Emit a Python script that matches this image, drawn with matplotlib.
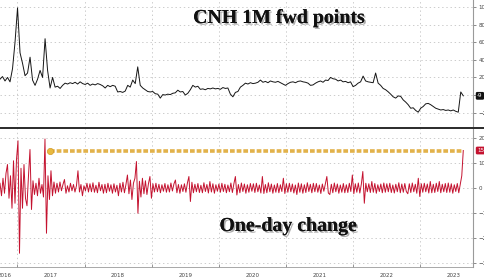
import pandas as pd
import matplotlib
matplotlib.use("Agg")
import matplotlib.pyplot as plt
import matplotlib.dates as mdates
import matplotlib.patheffects as pe
from matplotlib.lines import Line2D

# ---------- data ----------
# CNH 1M forward points, evenly spaced from late Sep 2016 to Aug 2023
fwd_points = [
    180, 210, 160, 200, 150, 300, 600, 990, 480, 360,
    220, 250, 430, 170, 110, 180, 280, 200, 640, 280,
    80, 200, 90, 100, 75, 110, 135, 125, 140, 130,
    145, 125, 150, 130, 120, 135, 110, 125, 115, 130,
    120, 105, 80, 110, 95, 110, 100, 35, 40, 30,
    45, 110, 90, 170, 130, 320, 110, 80, 60, 40,
    35, 40, 15, 10, -35, 5, 0, 10, 5, 20,
    25, 55, 35, 40, 0, 20, 60, 110, 90, 100,
    65, 70, 60, 75, 70, 80, 70, 75, 65, 85,
    75, 80, 10, -20, 30, 40, 90, 110, 135, 125,
    140, 130, 135, 145, 170, 145, 155, 140, 160, 150,
    145, 155, 140, 125, 110, 130, 145, 150, 140, 155,
    160, 150, 145, 135, 110, 115, 135, 150, 160, 145,
    170, 165, 200, 185, 180, 160, 170, 150, 155, 140,
    150, 95, 110, 135, 150, 215, 160, 150, 145, 140,
    250, 135, 110, 75, 60, 37, 10, -20, -35, -10,
    -15, -55, -80, -110, -150, -145, -175, -195, -150, -130,
    -100, -95, -110, -130, -150, -160, -170, -165, -175, -170,
    -180, -170, -185, -195, 35, -9,
]

# one-day change in the forward points, same period
one_day_change = [
    20, -30, 40, -20, 60, 95, -40, 50, -80, 110,
    -60, 115, 190, -260, 80, -80, 95, -40, -70, 50,
    155, -85, 30, -25, 20, -30, 40, -20, 15, -35,
    197, -180, 50, -45, 70, -30, 25, -20, 20, -15,
    25, -10, 15, 35, -20, 10, -15, 20, -10, 15,
    -15, 10, 70, -15, 15, -30, 10, -10, 20, -15,
    18, -14, 22, -16, 12, -18, 24, -10, 15, -20,
    16, -18, 20, -12, 14, -20, 18, -15, 12, -30,
    20, -15, 24, -18, 15, 53, -22, 33, -45, 20,
    40, 107, -100, 28, -35, 40, -22, 30, -25, 18,
    47, -40, 18, -15, 20, -14, 16, -18, 14, -12,
    19, -16, 14, -15, 21, -11, 17, 33, -18, 15,
    -20, 14, -13, 18, -16, 21, 47, -53, 24, -18,
    16, -14, 19, -17, 12, -18, 22, -13, 15, -19,
    27, -15, 18, -20, 14, -12, 17, -16, 20, -13,
    16, -18, 13, -14, 21, -17, 18, 47, -27, 15,
    -18, 21, -13, 17, -20, 14, -16, 19, -12, 18,
    -17, 20, -14, 13, -19, 47, -21, 15, -18, 22,
    -14, 17, -20, 13, -16, 19, -18, 14, -13, 40,
    -21, 18, -16, 20, -14, 17, -19, 13, -25, 21,
    -16, 18, -20, 14, -17, 22, -13, 16, -18, 20,
    -14, 19, -16, 13, -21, 17, -12, 18, 47, -19,
    -25, 16, -18, 21, -14, 17, -20, 13, -16, 19,
    -18, 14, -17, 20, -13, 53, -22, 18, -16, 21,
    -19, 16, 67, -60, 20, -14, 18, -17, 27, -16,
    19, -20, 14, -13, 17, -18, 21, -16, 18, -14,
    20, -17, 13, -19, 16, -14, 22, -18, 17, -16,
    19, -13, -22, 18, -17, 21, -14, 16, -20, 40,
    -33, 18, -16, 20, -14, 17, -19, 27, -18, 16,
    -17, 20, -13, 27, -18, 16, -14, 19, -17, 21,
    -16, 18, -20, 14, -13, 19, -18, 16, 50, 151,
]

latest_fwd = -9
latest_change = 151
ref_start = "2017-06-28"   # start of the dashed 'latest move' marker

top_ticks = [1000, 800, 600, 400, 200, 0, -200]
bot_ticks = [200, 100, 0, -100, -200, -300]
year_labels = ["2016", "2017", "2018", "2019", "2020", "2021", "2022", "2023"]
year_label_dates = ["2016-10-26"] + [f"{y}-07-02" for y in range(2017, 2024)]
year_starts = [f"{y}-01-01" for y in range(2017, 2024)]

start, end = "2016-09-28", "2023-08-22"
fwd_dates = pd.date_range(start, end, periods=len(fwd_points))
chg_dates = pd.date_range(start, end, periods=len(one_day_change))

# ---------- figure ----------
plt.rcParams["lines.scale_dashes"] = False
fig = plt.figure(figsize=(4.85, 2.79), dpi=100)
ax_top = fig.add_axes([0, 0.543, 0.9753, 0.457])
ax_bot = fig.add_axes([0, 0.043, 0.9753, 0.4946])

xlim = (mdates.date2num(pd.Timestamp("2016-09-28")), mdates.date2num(pd.Timestamp("2023-10-14")))
grid_kw = dict(color="#c4c4c4", linewidth=0.6, linestyle=(0, (1, 2)))

for ax in (ax_top, ax_bot):
    ax.set_xlim(*xlim)
    ax.yaxis.tick_right()
    for s in ("left", "top"):
        ax.spines[s].set_visible(False)
    ax.spines["right"].set_color("#9a9a9a")
    ax.spines["right"].set_linewidth(0.8)
    ax.set_xticks(mdates.date2num(pd.to_datetime(year_starts)))
    ax.set_xticks(mdates.date2num(pd.to_datetime(year_label_dates)), minor=True)
    ax.grid(True, axis="both", which="major", **grid_kw)
    ax.tick_params(axis="y", which="both", direction="out", length=2.5, width=0.6,
                   color="#777777", labelsize=4, labelcolor="#444444", pad=1.5)
    ax.set_axisbelow(True)

# top panel
ax_top.plot(fwd_dates, fwd_points, color="#151515", linewidth=0.7)
ax_top.set_ylim(-369, 1080)
ax_top.set_yticks(top_ticks)
ax_top.spines["bottom"].set_visible(False)
ax_top.tick_params(axis="x", which="both", length=0, labelbottom=False)

# bottom panel
ax_bot.plot(chg_dates, one_day_change, color="#c4122f", linewidth=0.7)
ax_bot.set_ylim(-315, 237)
ax_bot.set_yticks(bot_ticks)
ax_bot.spines["bottom"].set_color("#9a9a9a")
ax_bot.spines["bottom"].set_linewidth(0.6)
ax_bot.set_xticklabels([])
ax_bot.set_xticklabels(year_labels, minor=True)
ax_bot.tick_params(axis="x", which="major", direction="in", length=2.5, width=0.6, color="#888888")
ax_bot.tick_params(axis="x", which="minor", length=0, labelsize=4, labelcolor="#444444", pad=4.5)

# dashed line at the latest one-day move
ref_x = [pd.Timestamp(ref_start), pd.Timestamp(end)]
ax_bot.plot(ref_x, [latest_change, latest_change], color="#e2b24a", linewidth=2.6,
            dashes=(3.4, 1.4), solid_capstyle="butt", dash_capstyle="butt", zorder=4)
ax_bot.plot(ref_x[0], latest_change, "o", color="#e8b93e", markersize=4.5,
            markeredgecolor="#d39a2a", markeredgewidth=0.5, zorder=5)

# value badges on the right axis
ax_top.annotate(f"{latest_fwd}", xy=(1.0, latest_fwd), xycoords=("axes fraction", "data"),
                xytext=(3, 0), textcoords="offset points", ha="left", va="center",
                fontsize=4, color="white", annotation_clip=False,
                bbox=dict(boxstyle="round,pad=0.25", fc="#111111", ec="none"))
ax_bot.annotate(f"{latest_change}", xy=(1.0, latest_change), xycoords=("axes fraction", "data"),
                xytext=(3, 0), textcoords="offset points", ha="left", va="center",
                fontsize=4, color="white", annotation_clip=False,
                bbox=dict(boxstyle="round,pad=0.25", fc="#c4122f", ec="none"))

# separator between panels
fig.add_artist(Line2D([0, 1], [1 - 128 / 279, 1 - 128 / 279], transform=fig.transFigure,
                      color="#2a2a2a", linewidth=1.4))

# panel captions with a soft shadow
shadow = [pe.withSimplePatchShadow(offset=(1.2, -1.2), shadow_rgbFace="#777777", alpha=0.6),
          pe.Normal()]
fig.text(279 / 485, 1 - 18 / 279, "CNH 1M fwd points", ha="center", va="center",
         fontsize=14.3, fontweight="bold", family="Liberation Serif", color="#111111",
         path_effects=shadow)
fig.text(288 / 485, 1 - 226 / 279, "One-day change", ha="center", va="center",
         fontsize=14.3, fontweight="bold", family="Liberation Serif", color="#111111",
         path_effects=shadow)

fig.savefig("out.png", dpi=100)
plt.close(fig)
